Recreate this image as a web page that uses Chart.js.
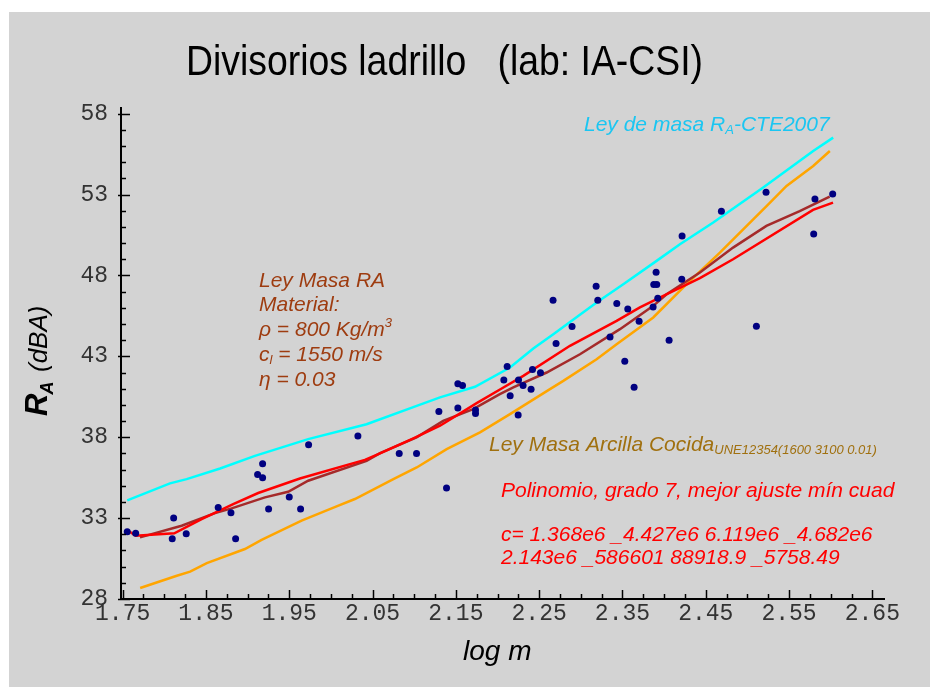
<!DOCTYPE html>
<html>
<head>
<meta charset="utf-8">
<script src="https://cdn.jsdelivr.net/npm/chart.js"></script>
<style>
  html, body { margin: 0; padding: 0; background: #fff; }
  canvas { display: block; }
</style>
</head>
<body>
<canvas id="raChart" width="930" height="687"></canvas>
<script>
// medidas de laboratorio (log m, RA)
var measX = [1.7555, 1.7656, 1.8112, 1.8095, 1.8263, 1.8647, 1.880, 1.8856, 1.912, 1.918, 1.918, 1.9252, 1.950, 1.9636, 1.9732, 2.0324,
    2.082, 2.1028, 2.1296, 2.1524, 2.158, 2.1524, 2.1736, 2.1736, 2.1388, 2.2116, 2.2076, 2.2252, 2.2152, 2.2307, 2.242, 2.2516,
    2.2403, 2.2248, 2.2667, 2.2895, 2.2703, 2.3184, 2.3204, 2.3432, 2.3564, 2.370, 2.3351, 2.3528, 2.364, 2.3904, 2.3876, 2.3912,
    2.3924, 2.3868, 2.4212, 2.4216, 2.406, 2.4688, 2.5224, 2.5108, 2.5811, 2.6024, 2.5796];
var measY = [32.16, 32.06, 33.0, 31.72, 32.03, 33.66, 33.33, 31.72, 35.70, 36.36, 35.49, 33.56, 34.30, 33.56, 37.53, 38.07,
    37.0, 37.0, 39.59, 41.30, 41.20, 39.80, 39.69, 39.47, 34.86, 42.37, 41.53, 41.53, 40.56, 41.20, 42.19, 41.98,
    40.97, 39.37, 46.47, 44.84, 43.79, 47.33, 46.47, 46.26, 45.93, 45.17, 44.20, 42.70, 41.09, 48.20, 47.44, 47.44,
    46.59, 46.05, 47.77, 50.44, 44.0, 51.97, 53.14, 44.86, 52.73, 53.03, 50.56];

// ley de masa CTE 2007
var cteX = [1.7555, 1.8068, 1.8268, 1.867, 1.9088, 1.9727, 2.0428, 2.103, 2.131, 2.173, 2.215, 2.243, 2.267, 2.319, 2.351, 2.391, 2.419, 2.459, 2.519, 2.579, 2.603];
var cteY = [34.1, 35.15, 35.41, 36.07, 36.85, 37.88, 38.8, 39.94, 40.46, 41.12, 42.31, 43.48, 44.37, 46.33, 47.46, 48.9, 49.93, 51.27, 53.43, 55.69, 56.52];

// ley de masa arcilla cocida (UNE 12354)
var arcX = [1.771, 1.815, 1.831, 1.851, 1.8968, 1.9168, 1.9648, 2.0068, 2.0288, 2.075, 2.103, 2.139, 2.179, 2.215, 2.263, 2.279, 2.319, 2.343, 2.387, 2.427, 2.467, 2.507, 2.523, 2.547, 2.579, 2.599];
var arcY = [28.68, 29.44, 29.69, 30.22, 31.09, 31.66, 32.84, 33.73, 34.18, 35.41, 36.13, 37.26, 38.30, 39.43, 40.97, 41.48, 42.82, 43.75, 45.40, 47.46, 49.41, 51.47, 52.29, 53.53, 54.77, 55.69];

// ley de masa RA del material
var masaX = [1.7708, 1.8208, 1.8608, 1.8808, 1.9208, 1.9487, 1.9727, 2.0428, 2.0590, 2.1028, 2.1348, 2.1708, 2.2028, 2.2190, 2.2590, 2.2990, 2.3470, 2.3870, 2.4030, 2.4430, 2.4828, 2.5228, 2.5628, 2.5988];
var masaY = [31.81, 32.53, 33.31, 33.60, 34.28, 34.63, 35.31, 36.54, 37.02, 37.99, 39.01, 39.74, 40.66, 41.08, 42.0, 43.13, 44.68, 46.12, 46.84, 48.18, 49.72, 51.06, 51.98, 52.87];

// polinomio grado 7
var polyX = [1.7555, 1.7656, 1.812, 1.8448, 1.8827, 1.9127, 1.9628, 2.0408, 2.059, 2.099, 2.131, 2.175, 2.205, 2.231, 2.287, 2.343, 2.371, 2.407, 2.443, 2.4828, 2.5788, 2.6028];
var polyY = [32.26, 31.91, 32.06, 32.94, 33.87, 34.55, 35.45, 36.6, 37.0, 37.93, 38.71, 40.11, 41.01, 41.79, 43.65, 45.19, 46.02, 46.94, 47.83, 49.0, 52.05, 52.5];

var xLabels = [1.75, 1.85, 1.95, 2.05, 2.15, 2.25, 2.35, 2.45, 2.55, 2.65];
var yLabels = [28, 33, 38, 43, 48, 53, 58];

function pts(xs, ys) {
    return xs.map(function (x, i) { return {x: x, y: ys[i]}; });
}

function lineSet(xs, ys, color) {
    return {
        data: pts(xs, ys), showLine: true, borderColor: color, borderWidth: 2.5,
        pointRadius: 0, fill: false, tension: 0
    };
}

// fondo, marcas de escala y textos
var decor = {
    id: 'decor',
    beforeDraw: function (chart) {
        var c = chart.ctx;
        c.save();
        c.fillStyle = '#fff';
        c.fillRect(0, 0, chart.width, chart.height);
        c.fillStyle = '#d3d3d3';
        c.fillRect(9, 12, chart.width - 9, chart.height - 12);
        c.restore();
    },
    afterDraw: function (chart) {
        var c = chart.ctx, xs = chart.scales.x, ys = chart.scales.y, a = chart.chartArea;
        c.save();
        c.strokeStyle = '#000';
        c.lineWidth = 1.5;
        // marcas eje x
        for (var i = 0; i <= 36; i++) {
            var px = Math.round(xs.getPixelForValue(1.75 + i * 0.025)) + 0.5;
            var len = i % 4 === 0 ? 9 : 5;
            c.beginPath(); c.moveTo(px, a.bottom); c.lineTo(px, a.bottom - len); c.stroke();
        }
        // marcas eje y
        for (var v = 28; v <= 58; v++) {
            var py = Math.round(ys.getPixelForValue(v)) + 0.5;
            var l2 = (v - 28) % 5 === 0 ? 9 : 5;
            c.beginPath(); c.moveTo(a.left - ((v - 28) % 5 === 0 ? 3 : 0), py); c.lineTo(a.left + l2, py); c.stroke();
        }

        // titulo
        c.fillStyle = '#000';
        c.textBaseline = 'alphabetic';
        c.textAlign = 'left';
        c.font = "42px 'Liberation Sans Narrow', 'Liberation Sans', Arial, sans-serif";
        var t = 'Divisorios ladrillo   (lab: IA-CSI)';
        var w = c.measureText(t).width;
        c.save();
        c.translate(186, 75);
        c.scale(517 / w, 1);
        c.fillText(t, 0, 0);
        c.restore();

        // titulo eje y
        c.save();
        c.translate(47, 416);
        c.rotate(-Math.PI / 2);
        c.font = "italic bold 31px 'Liberation Sans', Arial, sans-serif";
        c.fillText('R', 0, 0);
        var wr = c.measureText('R').width;
        c.font = "italic bold 18px 'Liberation Sans', Arial, sans-serif";
        c.fillText('A', wr - 1, 6);
        c.font = "italic 26px 'Liberation Sans', Arial, sans-serif";
        c.fillText('(dBA)', 44, 0);
        c.restore();

        // titulo eje x
        c.font = "italic 28px 'Liberation Sans', Arial, sans-serif";
        c.fillText('log m', 463, 660);

        var f = "'Liberation Sans', Arial, sans-serif";
        function seq(x, y, parts) {
            parts.forEach(function (p) {
                c.font = 'italic ' + p[1] + 'px ' + f;
                c.fillText(p[0], x, y + (p[2] || 0));
                x += c.measureText(p[0]).width;
            });
        }

        // ley de masa CTE
        c.fillStyle = '#1ac6f2';
        seq(584, 131, [['Ley de masa R', 21], ['A', 13, 3], ['-CTE2007', 21]]);

        // bloque material
        c.fillStyle = '#9e3c10';
        seq(259, 287, [['Ley Masa RA', 21]]);
        seq(259, 311, [['Material:', 21]]);
        seq(259, 336, [['\u03c1 = 800 Kg/m', 21], ['3', 13, -9]]);
        seq(259, 361, [['c', 21], ['l', 13, 3], [' = 1550 m/s', 21]]);
        seq(259, 386, [['\u03b7 = 0.03', 21]]);

        // arcilla cocida
        c.fillStyle = '#a0700f';
        seq(489, 451, [['Ley Masa Arcilla Cocida', 21], ['UNE12354(1600 3100 0.01)', 13, 3]]);

        // polinomio
        c.fillStyle = '#ff0000';
        seq(501, 497, [['Polinomio, grado 7, mejor ajuste m\u00edn cuad', 21]]);
        seq(501, 541, [['c= 1.368e6 _4.427e6 6.119e6 _4.682e6', 21]]);
        seq(501, 564, [['2.143e6 _586601 88918.9 _5758.49', 21]]);
        c.restore();
    }
};

var ctx = document.getElementById('raChart').getContext('2d');
var tickFont = {family: "'Liberation Mono', 'Courier New', monospace", size: 23};

var raChart = new Chart(ctx, {
    type: 'scatter',
    data: {
        datasets: [
            {data: pts(measX, measY), backgroundColor: '#000080', borderWidth: 0, pointRadius: 3.5},
            lineSet(polyX, polyY, '#ff0000'),
            lineSet(masaX, masaY, '#a52a2a'),
            lineSet(arcX, arcY, '#ffa500'),
            lineSet(cteX, cteY, '#00ffff')
        ]
    },
    options: {
        responsive: false,
        animation: false,
        events: [],
        layout: {padding: {left: 0, top: 108, right: 46, bottom: 38}},
        plugins: {legend: {display: false}, tooltip: {enabled: false}},
        scales: {
            x: {
                type: 'linear', min: 1.748, max: 2.664,
                grid: {display: false, drawTicks: false},
                border: {display: true, color: '#000', width: 2},
                ticks: {font: tickFont, color: '#333', padding: 1, maxRotation: 0,
                    callback: function (v) { return v.toFixed(2); }},
                afterBuildTicks: function (s) { s.ticks = xLabels.map(function (v) { return {value: v}; }); },
                afterFit: function (s) { s.height = 50; }
            },
            y: {
                type: 'linear', min: 28, max: 58.35,
                grid: {display: false, drawTicks: false},
                border: {display: true, color: '#000', width: 2},
                ticks: {font: tickFont, color: '#333', padding: 13,
                    callback: function (v) { return String(v); }},
                afterBuildTicks: function (s) { s.ticks = yLabels.map(function (v) { return {value: v}; }); },
                afterFit: function (s) { s.width = 121; }
            }
        }
    },
    plugins: [decor]
});
</script>
</body>
</html>
